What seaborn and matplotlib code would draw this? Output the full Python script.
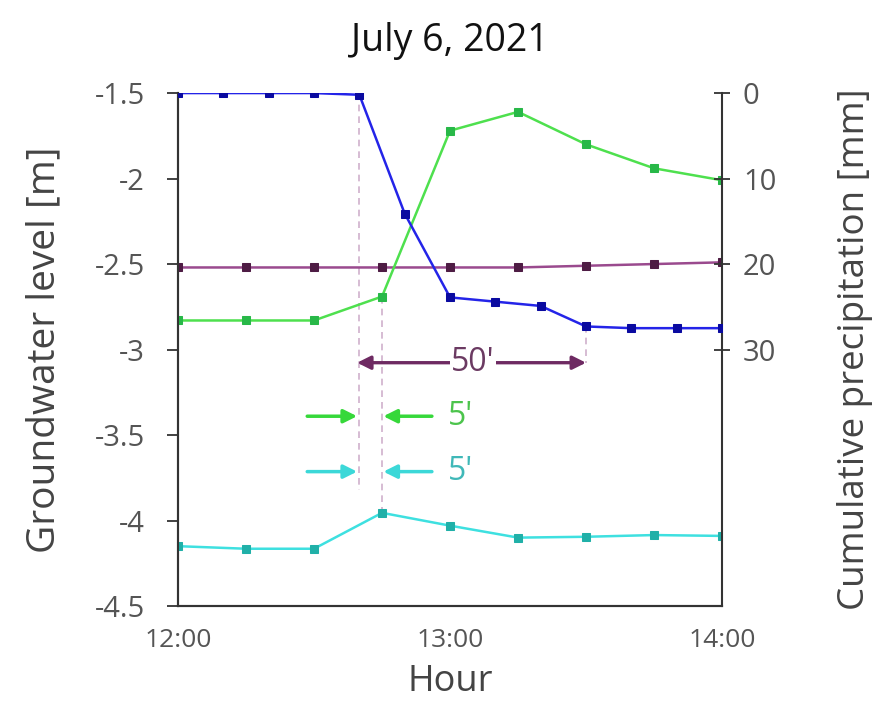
import matplotlib
matplotlib.use("Agg")
import matplotlib.pyplot as plt
import seaborn as sns
import pandas as pd
from matplotlib.ticker import FixedLocator

# ---- data ----
precip_minutes = [0, 10, 20, 30, 40, 50, 60, 70, 80, 90, 100, 110, 120]
precip_mm = [0, 0, 0, 0, 0.2, 14.1, 23.9, 24.4, 24.9, 27.3, 27.5, 27.5, 27.5]

gw_minutes = [0, 15, 30, 45, 60, 75, 90, 105, 120]
gw_green = [-2.83, -2.83, -2.83, -2.69, -1.72, -1.61, -1.80, -1.94, -2.01]
gw_purple = [-2.52, -2.52, -2.52, -2.52, -2.52, -2.52, -2.51, -2.50, -2.49]
gw_cyan = [-4.15, -4.165, -4.165, -3.955, -4.03, -4.10, -4.095, -4.085, -4.09]

x_ticks = [0, 60, 120]
x_tick_labels = ["12:00", "13:00", "14:00"]
left_ticks = [-1.5, -2, -2.5, -3, -3.5, -4, -4.5]
right_ticks = [0, 10, 20, 30]

sns.set_style("white")
plt.rcParams["font.family"] = ["Open Sans", "DejaVu Sans"]

fig = plt.figure(figsize=(8.8, 7.05), dpi=100)
ax = fig.add_axes([0.2023, 0.1404, 0.6182, 0.7276])
ax2 = ax.twinx()

df_g = pd.DataFrame({"t": gw_minutes, "green": gw_green, "purple": gw_purple, "cyan": gw_cyan})
df_p = pd.DataFrame({"t": precip_minutes, "p": precip_mm})

# dashed guide lines
guide = dict(color="#d0b0cc", lw=1.2, ls=(0, (4, 3)), zorder=1)
ax.plot([40, 40], [-1.5, -3.82], **guide)
ax.plot([45, 45], [-2.69, -3.955], **guide)
ax.plot([90, 90], [-2.86, -3.077], **guide)

lw = 1.8
ms = 6
sns.lineplot(data=df_g, x="t", y="purple", ax=ax, color="#9a4a8e", lw=lw,
             marker="s", markersize=ms, markerfacecolor="#4e1c44", markeredgecolor="#4e1c44", zorder=3)
sns.lineplot(data=df_g, x="t", y="green", ax=ax, color="#4ee04e", lw=lw,
             marker="s", markersize=ms, markerfacecolor="#28b848", markeredgecolor="#28b848", zorder=3)
sns.lineplot(data=df_g, x="t", y="cyan", ax=ax, color="#3ee0e0", lw=lw,
             marker="s", markersize=ms, markerfacecolor="#20b0a8", markeredgecolor="#20b0a8", zorder=3)
sns.lineplot(data=df_p, x="t", y="p", ax=ax2, color="#2424e8", lw=lw,
             marker="s", markersize=ms, markerfacecolor="#0a0aa0", markeredgecolor="#0a0aa0", zorder=3)

# annotations (left axis coordinates)
purple_arrow = "#6e2a62"
ax.annotate("", xy=(39.5, -3.077), xytext=(90, -3.077),
            arrowprops=dict(arrowstyle="<|-|>", color=purple_arrow, lw=2.4, mutation_scale=20, shrinkA=0, shrinkB=0))
ax.text(65, -3.077, "50'", color="#6b3a62", fontsize=23, ha="center", va="center",
        bbox=dict(facecolor="white", edgecolor="none", pad=1))

for yv, col, tcol in [(-3.39, "#36d83a", "#4cc44c"), (-3.714, "#3cd8d8", "#40b8b8")]:
    ax.annotate("", xy=(39.5, yv), xytext=(28.5, yv),
                arrowprops=dict(arrowstyle="-|>", color=col, lw=2.5, mutation_scale=20, shrinkA=0, shrinkB=0))
    ax.annotate("", xy=(45.3, yv), xytext=(56, yv),
                arrowprops=dict(arrowstyle="-|>", color=col, lw=2.5, mutation_scale=20, shrinkA=0, shrinkB=0))
    ax.text(59.5, yv, "5'", color=tcol, fontsize=23, ha="left", va="center")

# axes setup
ax.set_xlim(0, 120)
ax.set_ylim(-4.5, -1.5)
ax2.set_ylim(60, 0)
ax.set_xticks(x_ticks)
ax.set_xticklabels(x_tick_labels)
ax.xaxis.set_minor_locator(FixedLocator([30, 90]))
ax.set_yticks(left_ticks)
ax.set_yticklabels([f"{v:g}" for v in left_ticks])
ax2.set_yticks(right_ticks)
ax2.set_yticklabels([str(v) for v in right_ticks])

tick_col = "#555555"
ax.tick_params(axis="x", which="major", direction="inout", length=10, width=1.3, colors="#333333",
               labelcolor=tick_col, labelsize=19, pad=11)
ax.tick_params(axis="x", which="minor", direction="in", length=6, width=1.3, colors="#333333")
ax.tick_params(axis="y", direction="out", length=8, width=1.3, colors="#333333",
               labelcolor=tick_col, labelsize=21, pad=16, left=True)
ax2.tick_params(axis="y", direction="inout", length=12, width=1.3, colors="#333333",
                labelcolor=tick_col, labelsize=21, pad=9, right=True)

for a in (ax, ax2):
    a.spines["top"].set_visible(False)
    for s in ("left", "right", "bottom"):
        a.spines[s].set_color("#333333")
        a.spines[s].set_linewidth(1.5)
ax.spines["right"].set_visible(False)

ax.set_xlabel("Hour", fontsize=26, color="#444444", labelpad=8)
ax.set_ylabel("Groundwater level [m]", fontsize=28, color="#444444", labelpad=22)
ax2.set_ylabel("Cumulative precipitation [mm]", fontsize=26.5, color="#444444", labelpad=44)
ax.set_title("July 6, 2021", fontsize=27, color="#111111", pad=30)

fig.savefig("out.png", dpi=100)
